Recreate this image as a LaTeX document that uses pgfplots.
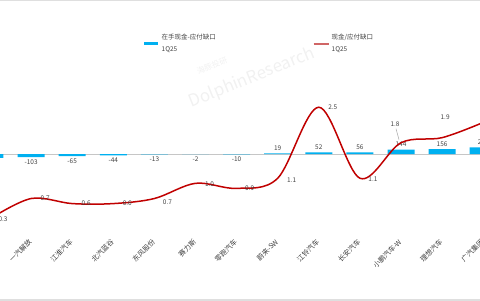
\documentclass[border=0pt]{standalone}
\usepackage{fontspec}
\setmainfont{Noto Sans CJK SC}
\usepackage{pgfplots}
\pgfplotsset{compat=1.18}
\usepackage{pgfplotstable}
\definecolor{barblue}{HTML}{00B0F0}
\definecolor{linered}{HTML}{C00000}
\definecolor{legred}{HTML}{D06666}
\definecolor{txt}{HTML}{404040}

\pgfplotstableread{
x y
0 -120
1 -103
2 -65
3 -44
4 -13
5 -2
6 -10
7 19
8 52
9 56
10 144
11 156
12 210
}\bars

\pgfplotstableread{
x y dx dy
0 0.3 13 0
1 0.7 14 0
2 0.6 14 0
3 0.6 14 0
4 0.7 13 -4
5 1.0 14 -1
6 0.9 13 0
7 1.1 14 -2
8 2.5 14 0
9 1.1 13 -1
10 1.8 -6 19
11 1.9 3 20
12 2.2 14 0
}\linedata

\begin{document}
\begin{tikzpicture}[x=1bp,y=1bp]
% watermark
\node[rotate=22, text=gray!11, font=\fontsize{17}{17}\selectfont] at (252,222) {DolphinResearch};
\node[rotate=22, text=gray!11, font=\fontsize{8}{8}\selectfont] at (212,234) {海豚投研};
\begin{axis}[
  at={(-30.55bp,60bp)}, anchor=south west,
  scale only axis, width=534.3bp, height=220bp,
  xmin=-0.5, xmax=12.5, ymin=-2752, ymax=4288,
  axis line style={draw=none},
  ytick=\empty,
  xtick={0,...,12},
  xticklabels={东风汽车,一汽解放,江淮汽车,北汽蓝谷,东风股份,赛力斯,零跑汽车,蔚来-SW,江铃汽车,长安汽车,小鹏汽车-W,理想汽车,广汽集团},
  major tick length=0pt,
  xticklabel style={rotate=45, anchor=east, font=\fontsize{7}{8}\selectfont, text=txt, inner sep=1bp},
  ybar, bar width=27bp,
  nodes near coords,
  every node near coord/.append style={font=\fontsize{6.5}{7}\selectfont, text=txt, inner sep=2.5bp},
  /pgf/number format/assume math mode=true,
]
\draw[gray!45, line width=0.8bp] (axis cs:-0.5,0) -- (axis cs:12.5,0);
\addplot[fill=barblue, draw=none] table[x=x,y=y]{\bars};
\end{axis}
\begin{axis}[
  at={(-30.55bp,60bp)}, anchor=south west,
  scale only axis, width=534.3bp, height=220bp,
  xmin=-0.5, xmax=12.5, ymin=-0.118, ymax=4.22,
  hide axis,
  /pgf/number format/assume math mode=true,
  legend columns=2,
  legend style={at={(0.3192,0.955)}, anchor=north west, draw=none, fill=none,
    font=\fontsize{6.5}{12}\selectfont, text=txt, cells={align=left},
    /tikz/every even column/.append style={column sep=95bp}},
]
\addlegendimage{legend image code/.code={\draw[barblue,line width=2.5bp] (0bp,0bp)--(14bp,0bp);}}
\addlegendentry{在手现金-应付缺口\\1Q25}
\addlegendimage{legend image code/.code={\draw[legred,line width=2bp] (0bp,0bp)--(15bp,0bp);}}
\addlegendentry{现金/应付缺口\\1Q25}
\addplot[linered, line width=1.5bp, smooth, tension=0.55, no marks, forget plot,
  visualization depends on={\thisrow{dx}\as\dx},
  visualization depends on={\thisrow{dy}\as\dy},
  nodes near coords={\pgfmathprintnumber[fixed,zerofill,precision=1]{\pgfplotspointmeta}},
  every node near coord/.append style={anchor=center, xshift=\dx bp, yshift=\dy bp, text=txt, font=\fontsize{6.5}{7}\selectfont, inner sep=0pt},
] table[x=x,y=y]{\linedata};
\draw[gray!70, line width=0.5bp] (axis cs:10,1.8) ++(-2bp,3bp) -- ++(-3bp,11bp);
\end{axis}
\draw[gray!25, line width=2bp] (0,300) -- (480,300);
\draw[gray!25, line width=2bp] (0,0) -- (480,0);
\pgfresetboundingbox
\useasboundingbox (0,0) rectangle (480,300);
\end{tikzpicture}
\end{document}
